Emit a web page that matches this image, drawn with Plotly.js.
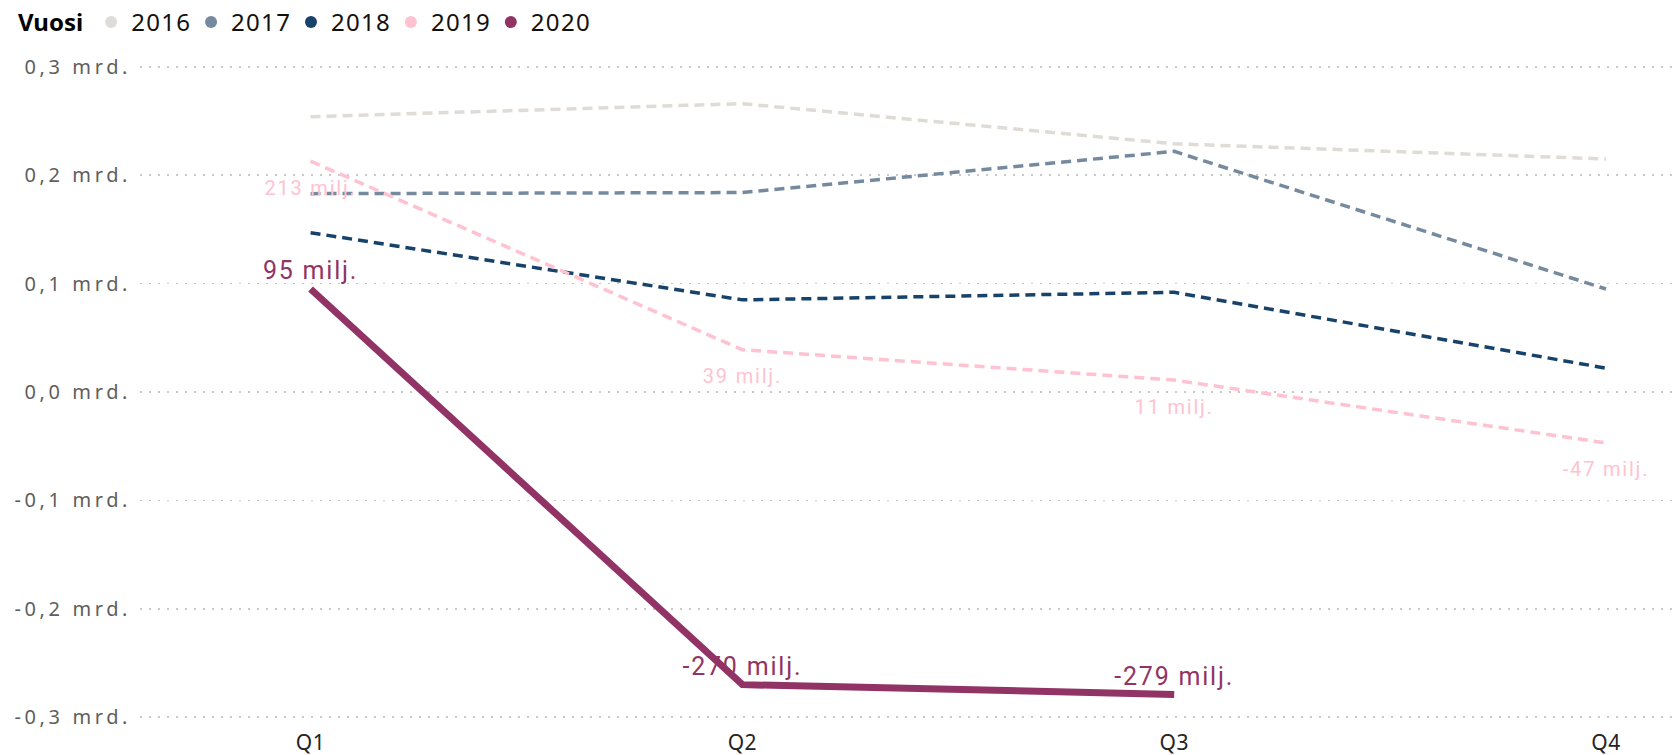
<!DOCTYPE html>
<html>
<head>
<meta charset="utf-8">
<script src="https://cdn.plot.ly/plotly-3.0.1.min.js"></script>
<style>
html,body{margin:0;padding:0;background:#fff;}
#chart{width:1679px;height:755px;}
#chart .ytick text{letter-spacing:3.6px;}
#chart .xtick text{letter-spacing:0.5px;}
#chart .textpoint text{letter-spacing:1.8px;}
#chart .legendtext{letter-spacing:1.3px;}
</style>
</head>
<body>
<div id="chart"></div>
<script>
const quarters = ["Q1", "Q2", "Q3", "Q4"];
const years = ["2016", "2017", "2018", "2019", "2020"];
const v2016 = [0.254, 0.266, 0.229, 0.215];
const v2017 = [0.183, 0.184, 0.222, 0.095];
const v2018 = [0.147, 0.085, 0.092, 0.022];
const v2019 = [0.213, 0.039, 0.011, -0.047];
const v2020 = [0.095, -0.270, -0.279, null];
const yTickVals = [-0.3, -0.2, -0.1, 0, 0.1, 0.2, 0.3];
const yTickText = ["-0,3 mrd.", "-0,2 mrd.", "-0,1 mrd.", "0,0 mrd.", "0,1 mrd.", "0,2 mrd.", "0,3 mrd."];

const colors = {"2016": "#DFDBD6", "2017": "#768A9E", "2018": "#17426A", "2019": "#FFC2D1", "2020": "#923366"};
const series = {"2016": v2016, "2017": v2017, "2018": v2018, "2019": v2019, "2020": v2020};
const fmt = v => v === null ? "" : Math.round(v * 1000) + " milj.";

const traces = [];
years.forEach(y => {
  const vals = series[y];
  const t = {
    x: quarters, y: vals, type: "scatter", mode: "lines",
    showlegend: false, hoverinfo: "skip",
    line: {color: colors[y], width: 3.5, dash: "10px,6px"}
  };
  if (y === "2019") {
    t.mode = "lines+markers+text";
    t.marker = {size: 28, color: "rgba(0,0,0,0)"};
    t.text = vals.map(fmt);
    t.textposition = "bottom center";
    t.textfont = {family: "Roboto, sans-serif", size: 20, color: colors[y]};
  }
  if (y === "2020") {
    t.mode = "lines+markers+text";
    t.marker = {size: 4, color: "rgba(0,0,0,0)"};
    t.line = {color: colors[y], width: 7};
    t.text = vals.map(fmt);
    t.textposition = "top center";
    t.textfont = {family: "Roboto, sans-serif", size: 25, color: colors[y]};
  }
  traces.push(t);
});
years.forEach(y => {
  traces.push({
    x: [null], y: [null], type: "scatter", mode: "markers", name: y,
    marker: {color: colors[y], size: 14, symbol: "circle"}, hoverinfo: "skip"
  });
});

const layout = {
  width: 1679, height: 755,
  margin: {l: 140, r: 0, t: 56, b: 27},
  paper_bgcolor: "#fff", plot_bgcolor: "#fff",
  font: {family: "Noto Sans, sans-serif"},
  showlegend: true,
  legend: {
    orientation: "h", x: 0.0095, xanchor: "left", y: 1, yanchor: "top",
    xref: "container", yref: "container",
    title: {text: "<b>Vuosi</b>", font: {size: 24, color: "#000", family: "Noto Sans, sans-serif", weight: 900}},
    font: {size: 24, color: "#111", family: "Noto Sans, sans-serif"},
    itemwidth: 30, tracegroupgap: 0, itemsizing: "constant"
  },
  xaxis: {
    type: "category", range: [-0.395, 3.169],
    showgrid: false, zeroline: false, showline: false,
    tickfont: {size: 21, color: "#252423", family: "Noto Sans, sans-serif"},
    ticks: ""
  },
  yaxis: {
    range: [-0.31, 0.31],
    tickvals: yTickVals, ticktext: yTickText,
    showgrid: true, gridcolor: "#C8C8C8", griddash: "2px,7px", gridwidth: 1.5,
    zeroline: false, showline: false, ticks: "",
    tickfont: {size: 20, color: "#605E5C", family: "Noto Sans, sans-serif"},
    ticklabelstandoff: 8
  }
};

Plotly.newPlot("chart", traces, layout, {displayModeBar: false, staticPlot: true});
</script>
</body>
</html>
